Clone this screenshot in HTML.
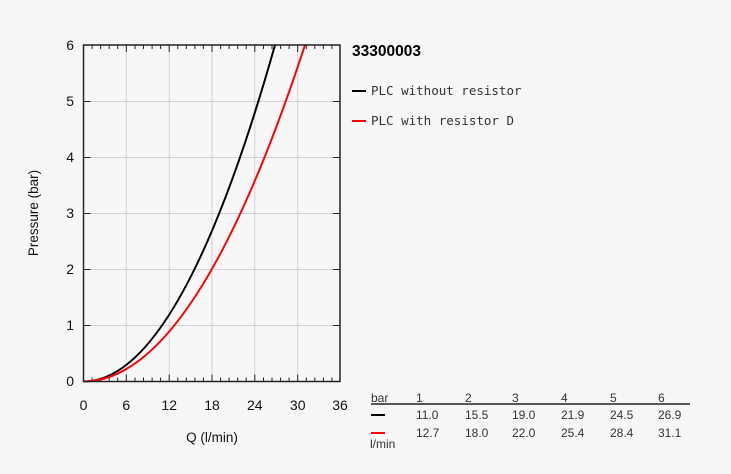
<!DOCTYPE html>
<html><head><meta charset="utf-8"><style>
html,body{margin:0;padding:0;background:#f7f7f7;}
svg{display:block;}
</style></head><body>
<svg width="731" height="474" xmlns="http://www.w3.org/2000/svg" font-family="Liberation Sans, sans-serif">
<rect width="731" height="474" fill="#f7f7f7"/>
<g stroke="#d0d0d8" stroke-width="1">
<line x1="126.3" y1="45" x2="126.3" y2="381.5"/>
<line x1="169.2" y1="45" x2="169.2" y2="381.5"/>
<line x1="212" y1="45" x2="212" y2="381.5"/>
<line x1="254.8" y1="45" x2="254.8" y2="381.5"/>
<line x1="297.7" y1="45" x2="297.7" y2="381.5"/>
<line x1="83.5" y1="325.5" x2="340" y2="325.5"/>
<line x1="83.5" y1="269.5" x2="340" y2="269.5"/>
<line x1="83.5" y1="213.5" x2="340" y2="213.5"/>
<line x1="83.5" y1="157.5" x2="340" y2="157.5"/>
<line x1="83.5" y1="101.5" x2="340" y2="101.5"/>
</g>
<g stroke="#222" stroke-width="1" id="ticks">
<path d="M92.1 45v4M100.6 45v4M109.2 45v4M117.7 45v4M135 45v4M143.5 45v4M152.1 45v4M160.6 45v4M177.8 45v4M186.3 45v4M194.9 45v4M203.4 45v4M220.6 45v4M229.1 45v4M237.7 45v4M246.2 45v4M263.5 45v4M272 45v4M280.6 45v4M289.1 45v4M306.3 45v4M314.8 45v4M323.4 45v4M331.9 45v4"/>
<path d="M92.1 381.5v-4M100.6 381.5v-4M109.2 381.5v-4M117.7 381.5v-4M135 381.5v-4M143.5 381.5v-4M152.1 381.5v-4M160.6 381.5v-4M177.8 381.5v-4M186.3 381.5v-4M194.9 381.5v-4M203.4 381.5v-4M220.6 381.5v-4M229.1 381.5v-4M237.7 381.5v-4M246.2 381.5v-4M263.5 381.5v-4M272 381.5v-4M280.6 381.5v-4M289.1 381.5v-4M306.3 381.5v-4M314.8 381.5v-4M323.4 381.5v-4M331.9 381.5v-4"/>
<path d="M126.3 45v7M169.2 45v7M212 45v7M254.8 45v7M297.7 45v7M126.3 381.5v-7M169.2 381.5v-7M212 381.5v-7M254.8 381.5v-7M297.7 381.5v-7"/>
<path d="M83.5 325.5h7M83.5 269.5h7M83.5 213.5h7M83.5 157.5h7M83.5 101.5h7M340 325.5h-7M340 269.5h-7M340 213.5h-7M340 157.5h-7M340 101.5h-7"/>
</g>
<path d="M83.5 381.5 Q180 381.5 275 45" fill="none" stroke="#000" stroke-width="2"/>
<path d="M83.5 381.5 Q195 381.5 305 45" fill="none" stroke="#f00" stroke-width="2"/>
<rect x="83.5" y="45" width="256.5" height="336.5" fill="none" stroke="#222" stroke-width="1.5"/>
<g font-size="14" fill="#111" text-anchor="end">
<text x="74" y="50">6</text><text x="74" y="106">5</text><text x="74" y="162">4</text>
<text x="74" y="218">3</text><text x="74" y="274">2</text><text x="74" y="330">1</text><text x="74" y="386">0</text>
</g>
<g font-size="14" fill="#111" text-anchor="middle">
<text x="83.5" y="410">0</text><text x="126.3" y="410">6</text><text x="169.2" y="410">12</text>
<text x="212" y="410">18</text><text x="254.8" y="410">24</text><text x="297.7" y="410">30</text><text x="340" y="410">36</text>
<text x="212" y="442" font-size="13.5">Q (l/min)</text>
<text transform="translate(38,213) rotate(-90)" font-size="13.5">Pressure (bar)</text>
</g>
<text x="352" y="56" font-size="15.5" font-weight="bold" fill="#000">33300003</text>
<line x1="352" y1="91" x2="366" y2="91" stroke="#000" stroke-width="2"/>
<line x1="352" y1="121" x2="366" y2="121" stroke="#f00" stroke-width="2"/>
<g font-family="DejaVu Sans Mono, monospace" font-size="12.5" fill="#333">
<text x="371" y="95">PLC without resistor</text>
<text x="371" y="125">PLC with resistor D</text>
</g>
<g font-size="12" fill="#333">
<text x="371" y="402">bar</text>
<text x="416" y="402">1</text><text x="465" y="402">2</text><text x="512" y="402">3</text>
<text x="561" y="402">4</text><text x="610" y="402">5</text><text x="658" y="402">6</text>
<line x1="371" y1="404" x2="690" y2="404" stroke="#222" stroke-width="1.5"/>
<line x1="371" y1="415" x2="385" y2="415" stroke="#000" stroke-width="2"/>
<line x1="371" y1="433" x2="385" y2="433" stroke="#f00" stroke-width="2"/>
<text x="416" y="419">11.0</text><text x="465" y="419">15.5</text><text x="512" y="419">19.0</text>
<text x="561" y="419">21.9</text><text x="610" y="419">24.5</text><text x="658" y="419">26.9</text>
<text x="416" y="437">12.7</text><text x="465" y="437">18.0</text><text x="512" y="437">22.0</text>
<text x="561" y="437">25.4</text><text x="610" y="437">28.4</text><text x="658" y="437">31.1</text>
<text x="370" y="448">l/min</text>
</g>
</svg>
</body></html>
